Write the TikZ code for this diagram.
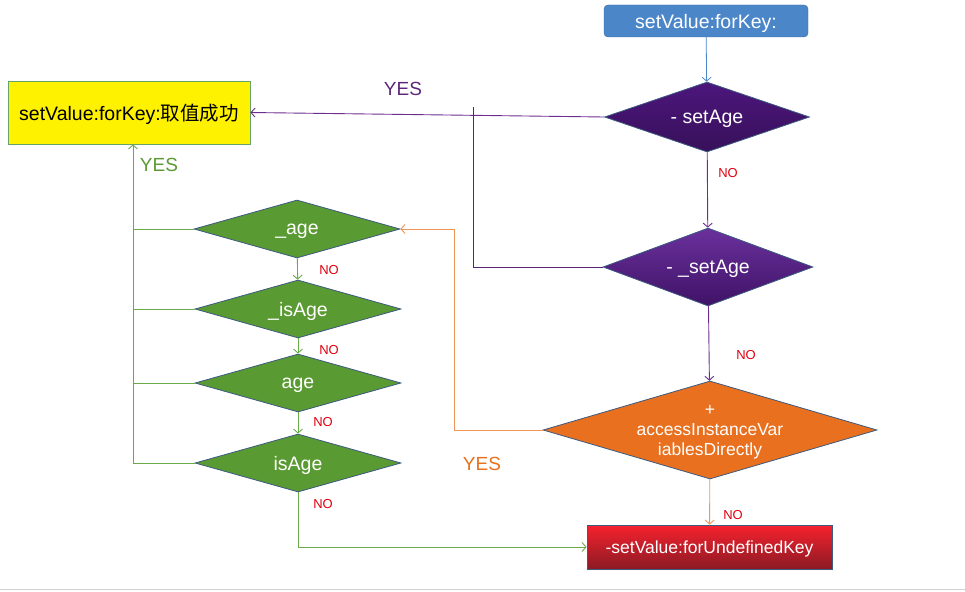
\documentclass[tikz,border=0pt]{standalone}
\usepackage{fontspec}
\setmainfont{Liberation Sans}
\newfontfamily\cjk{Noto Sans CJK SC}
\usetikzlibrary{shapes.geometric,arrows.meta}

\definecolor{keyblue}{HTML}{4A86C8}
\definecolor{keyblueline}{HTML}{3A6AA0}
\definecolor{edgeblue}{HTML}{3D5A80}
\definecolor{methtop}{HTML}{5A1A92}
\definecolor{methbot}{HTML}{37105A}
\definecolor{methline}{HTML}{6C2D91}
\definecolor{ivargreen}{HTML}{5A9A32}
\definecolor{ivarline}{HTML}{6AAA4A}
\definecolor{accorange}{HTML}{E8701F}
\definecolor{accline}{HTML}{F0955A}
\definecolor{undeftop}{HTML}{F6222E}
\definecolor{undefbot}{HTML}{8C1A24}
\definecolor{nored}{HTML}{E0000F}

\tikzset{
  arr/.style={-{Straight Barb[length=4pt,width=9pt]}},
  big/.style={font=\fontsize{19.5}{22}\selectfont, text depth=0pt},
  decision/.style={diamond, aspect=3, draw=edgeblue, line width=0.8pt, inner sep=0pt,
    text=white, big},
  ivar/.style={decision, fill=ivargreen, minimum width=206pt, minimum height=58pt},
  nolabel/.style={text=nored, font=\fontsize{13}{15}\selectfont},
  yeslabel/.style={text=#1, font=\fontsize{19}{22}\selectfont},
}

\begin{document}
\begin{tikzpicture}[x=1pt,y=-1pt]
    \useasboundingbox (0,0) rectangle (965,591);
    \draw[black!18, line width=1pt] (0,589) -- (965,589);

    % start and the two setters
    \node[draw=keyblueline, fill=keyblue, rounded corners=4pt, text=white, big,
        minimum width=204pt, minimum height=32pt] (start) at (706,21) {setValue:forKey:};
    \node[decision, top color=methtop!85!black, bottom color=methbot,
        minimum width=205pt, minimum height=70pt] (setage) at (707,117) {- setAge};
    \node[decision, top color=methtop!90!white, bottom color=methtop!70!black,
        minimum width=210pt, minimum height=78pt] (usetage) at (708,267) {- \_setAge};
    \node[decision, fill=accorange, minimum width=334pt, minimum height=98pt,
        inner sep=-4pt, align=center, font=\fontsize{17.5}{20}\selectfont]
        (direct) at (710,430) {+\\accessInstanceVar\\iablesDirectly};
    \node[draw=edgeblue, line width=0.8pt, top color=undeftop, bottom color=undefbot,
        text=white, font=\fontsize{17.5}{20}\selectfont, text depth=0pt,
        minimum width=245pt, minimum height=44pt] (undef) at (709.5,547) {-setValue:forUndefinedKey};
    \node[draw=black!60!green!60, line width=0.8pt, fill=yellow, big,
        minimum width=242pt, minimum height=63pt] (goal) at (129,112.5)
        {setValue:forKey:{\cjk 取值成功}};

    % instance variables
    \node[ivar] (uage) at (297,229) {\_age};
    \node[ivar] (uisage) at (298,309) {\_isAge};
    \node[ivar] (age) at (298,383) {age};
    \node[ivar] (isage) at (298,463) {isAge};

    \coordinate (stub) at (473,107);
    \coordinate (obend) at (454,430);

    \draw[keyblue, line width=0.8pt, arr] (start) -- (setage);
    \draw[methline, line width=0.9pt, arr] (setage.west) -- (goal.east);
    \draw[methline, line width=0.9pt, arr] (setage) -- (usetage);
    \draw[methline!80!black, line width=0.9pt] (usetage.west) -| (stub);
    \draw[methline, line width=0.9pt, arr] (usetage) -- (direct);
    \draw[accline, line width=0.9pt, arr] (direct.west) -- (obend) |- (uage.east);
    \draw[accline, line width=0.9pt, arr] (direct) -- (undef);

    \foreach \a/\b in {uage/uisage,uisage/age,age/isage}
        \draw[ivarline, line width=0.9pt, arr] (\a) -- (\b);
    \foreach \a in {uage,uisage,age}
        \draw[ivarline, line width=0.9pt] (\a.west) -| ([xshift=4pt]goal.south);
    \draw[ivarline, line width=0.9pt, arr] (isage.west) -| ([xshift=4pt]goal.south);
    \draw[ivarline, line width=0.9pt, arr] (isage.south) |- (undef.west);

    % labels
    \node[yeslabel=methline!85!black] (yes1) at (403,89) {YES};
    \node[yeslabel=accorange] (yes2) at (482,464) {YES};
    \node[yeslabel=ivargreen] (yes3) at (159,165) {YES};
    \node[nolabel] (no1) at (728,173) {NO};
    \node[nolabel] (no2) at (746,355) {NO};
    \node[nolabel] (no3) at (733,515) {NO};
    \node[nolabel] (no4) at (329,270) {NO};
    \node[nolabel] (no5) at (329,350) {NO};
    \node[nolabel] (no6) at (323,422) {NO};
    \node[nolabel] (no7) at (323,504) {NO};
\end{tikzpicture}
\end{document}
